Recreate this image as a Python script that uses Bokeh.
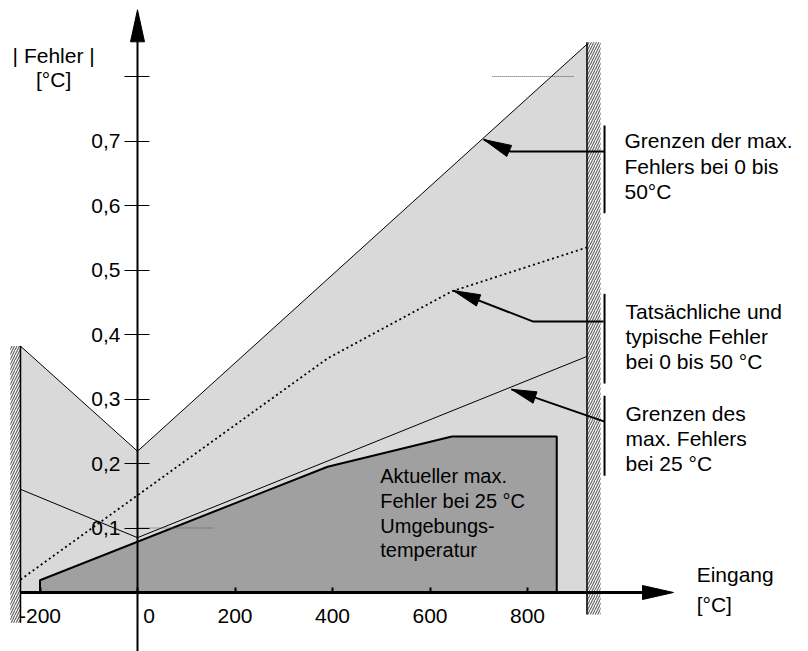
import math
from bokeh.plotting import figure
from bokeh.models import LinearAxis, FixedTicker, Range1d
from bokeh.core.properties import value
from bokeh.embed import file_html
from bokeh.resources import INLINE

# ---------------- data ----------------
wall_x = [-240, 922]                      # hatched limits of the input range
env_max_x = [-240, 0, 922]                # limits of max. error, 0..50 degC
env_max_y = [0.382, 0.219, 0.85]
env_25_x = [-240, 0, 922]                 # limits of max. error at 25 degC
env_25_y = [0.160, 0.085, 0.366]
typ_x = [-240, 390, 645, 922]             # actual / typical error, 0..50 degC
typ_y = [0.02, 0.363, 0.467, 0.535]
act_x = [-200, -200, 390, 645, 860, 860]  # actual max. error at 25 degC
act_y = [0.0, 0.019, 0.195, 0.242, 0.242, 0.0]
ref_y = [0.1, 0.8]
ref_x0 = [0, 728]
ref_x1 = [156, 895]
x_ticks = [-200, 0, 200, 400, 600, 800]
x_tick_labels = ["-200", "\u00a0\u00a0\u00a0\u00a00", "200", "400", "600", "800"]
y_ticks = [0.1, 0.2, 0.3, 0.4, 0.5, 0.6, 0.7, 0.8]
y_tick_labels = ["0,1", "0,2", "0,3", "0,4", "0,5", "0,6", "0,7", ""]

# ---------------- layout constants ----------------
W, H = 808, 651
KX = 0.4875   # px per x unit
KY = 645.0    # px per y unit
X0PX, Y0PX = 137.0, 592.0
FONT = value("Liberation Sans")

p = figure(width=W, height=H,
           x_range=Range1d(-X0PX / KX, (W - X0PX) / KX),
           y_range=Range1d((Y0PX - H) / KY, Y0PX / KY),
           output_backend="svg", toolbar_location=None,
           x_axis_location=None, y_axis_location=None,
           min_border=0, outline_line_color=None)
p.background_fill_color = "white"
p.border_fill_color = "white"
p.grid.grid_line_color = None
p.grid.visible = False


def head(tip, frm, length, width):
    tx, ty = tip
    fx, fy = frm
    dx, dy = (tx - fx) * KX, (ty - fy) * KY
    n = math.hypot(dx, dy)
    ux, uy = dx / n, dy / n
    bx, by = -ux * length, -uy * length
    nx, ny = -uy * width / 2, ux * width / 2
    return ([tx, tx + (bx + nx) / KX, tx + (bx - nx) / KX],
            [ty, ty + (by + ny) / KY, ty + (by - ny) / KY])


# light grey area under the 0..50 degC envelope
p.patch(env_max_x + [wall_x[1], wall_x[0]], env_max_y + [0, 0],
        fill_color="#d9d9d9", line_color=None)
p.line(env_max_x, env_max_y, line_color="black", line_width=1)
p.line(env_25_x, env_25_y, line_color="black", line_width=1)

# dark polygon: actual max. error at 25 degC
p.patch(act_x, act_y, fill_color="#a0a0a0", line_color="black", line_width=2)

# typical error (dotted)
p.line(typ_x, typ_y, line_color="black", line_width=1.8, line_dash="2 3")

# thin dotted reference marks
p.segment(x0=ref_x0, y0=ref_y, x1=ref_x1, y1=ref_y, line_color="#555555",
          line_width=1, line_dash="1 1")

# hatched walls
p.quad(left=[wall_x[0] - 21, wall_x[1]], right=[wall_x[0], wall_x[1] + 28],
       bottom=[-0.047, -0.034], top=[0.382, 0.853],
       fill_color="white", line_color=None,
       hatch_pattern="/", hatch_color="#666666", hatch_scale=5, hatch_weight=1.2)
p.segment(x0=wall_x, y0=[-0.047, -0.034], x1=wall_x, y1=[0.382, 0.853],
          line_color="black", line_width=1.5)

# axes
xaxis = LinearAxis(fixed_location=0, ticker=FixedTicker(ticks=x_ticks),
                   major_label_overrides=dict(zip(x_ticks, x_tick_labels)),
                   bounds=(-240, 1040), axis_line_width=3, axis_line_color="black",
                   major_tick_in=5, major_tick_out=0, major_tick_line_width=2,
                   minor_tick_line_color=None, major_label_standoff=11,
                   major_label_text_font="Liberation Sans",
                   major_label_text_font_size="21px",
                   major_label_text_color="black")
p.add_layout(xaxis, "below")
yaxis = LinearAxis(fixed_location=0, ticker=FixedTicker(ticks=y_ticks),
                   major_label_overrides=dict(zip(y_ticks, y_tick_labels)),
                   bounds=(-0.1, 0.855), axis_line_width=2, axis_line_color="black",
                   major_tick_in=12, major_tick_out=13, major_tick_line_width=1,
                   minor_tick_line_color=None, major_label_standoff=4,
                   major_label_text_font="Liberation Sans",
                   major_label_text_font_size="21px",
                   major_label_text_color="black")
p.add_layout(yaxis, "left")

# axis arrowheads
hx, hy = head((0, 0.9034), (0, 0.0), 32, 14)
p.patch(hx, hy, fill_color="black", line_color="black", line_width=1)
hx, hy = head((1099.5, 0.0), (0, 0.0), 31, 14)
p.patch(hx, hy, fill_color="black", line_color="black", line_width=1)

# pointer arrows with brackets
brk_x = 958
p.segment(x0=[brk_x] * 3, y0=[0.724, 0.463, 0.305], x1=[brk_x] * 3,
          y1=[0.588, 0.324, 0.181], line_color="black", line_width=2)
pointers = [
    ([958, 765, 710], [0.6837, 0.6837, 0.7023], 28, 12),
    ([956, 812, 648], [0.420, 0.420, 0.468], 27, 12),
    ([958, 767], [0.265, 0.315], 25, 12),
]
for xs, ys, ln, wd in pointers:
    p.line(xs, ys, line_color="black", line_width=2)
    hx, hy = head((xs[-1], ys[-1]), (xs[-2], ys[-2]), ln, wd)
    p.patch(hx, hy, fill_color="black", line_color="black", line_width=1)

# texts
p.text(x=[-172], y=[0.850], text=["| Fehler |\n[°C]"], text_font=FONT,
       text_font_size="21px", text_align="center", text_baseline="top",
       text_line_height=1.05, text_color="black")
p.text(x=[1147], y=[0.045], text=["Eingang\n[°C]"], text_font=FONT,
       text_font_size="21px", text_align="left", text_baseline="top",
       text_line_height=1.28, text_color="black")
p.text(x=[999, 1001, 1001], y=[0.718, 0.454, 0.296],
       text=["Grenzen der max.\nFehlers bei 0 bis\n50°C",
             "Tatsächliche und\ntypische Fehler\nbei 0 bis 50 °C",
             "Grenzen des\nmax. Fehlers\nbei 25 °C"],
       text_font=FONT, text_font_size="21px", text_align="left",
       text_baseline="top", text_line_height=1.1, text_color="black")
p.text(x=[498], y=[0.198],
       text=["Aktueller max.\nFehler bei 25 °C\nUmgebungs-\ntemperatur"],
       text_font=FONT, text_font_size="20px", text_align="left",
       text_baseline="top", text_line_height=1.13, text_color="black")

open("out.html", "w").write(file_html(p, INLINE))
